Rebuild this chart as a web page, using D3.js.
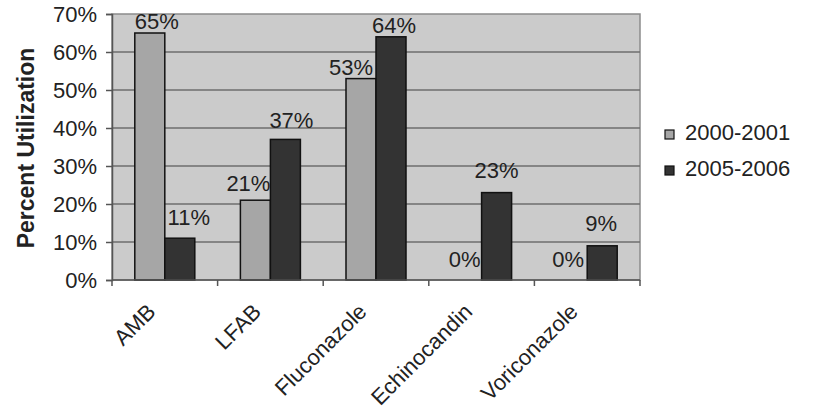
<!DOCTYPE html>
<html>
<head>
<meta charset="utf-8">
<script src="https://cdn.jsdelivr.net/npm/d3@7"></script>
<style>
  body { margin: 0; background: #fff; }
  svg { display: block; font-family: Arial, "Liberation Sans", sans-serif; }
</style>
</head>
<body>
<svg id="chart" width="813" height="415"></svg>
<script>
// Antifungal agents and share of use in each period (percent)
const categories = ["AMB", "LFAB", "Fluconazole", "Echinocandin", "Voriconazole"];
const seriesNames = ["2000-2001", "2005-2006"];
const values2000 = [65, 21, 53, 0, 0];
const values2005 = [11, 37, 64, 23, 9];
const yTicks = [0, 10, 20, 30, 40, 50, 60, 70];

const colors = ["#a6a6a6", "#333333"];
const series = [values2000, values2005];

// Label placement tweaks [dx, gap above bar] so neighbouring labels don't collide
const labelPlacement = [
  [[7, 4], [-7, 9], [-10, 4], [-2, 13], [-4, 13]],
  [[9, 13], [6, 11], [3, 4], [0, 15], [-1, 15]]
];

const FONT = 22;
const svg = d3.select("#chart");
const margin = { left: 112, top: 14, right: 173, bottom: 135 };
const W = 813 - margin.left - margin.right;
const H = 415 - margin.top - margin.bottom;

const g = svg.append("g").attr("transform", `translate(${margin.left},${margin.top})`);

const x = d3.scaleBand().domain(categories).range([0, W]).paddingInner(0).paddingOuter(0);
const barW = 30;
const sub = d3.scaleBand().domain(seriesNames).range([0, barW * 2]);
const y = d3.scaleLinear().domain([0, 70]).range([H, 0]);

// Plot area background
g.append("rect").attr("width", W).attr("height", H)
  .attr("fill", "#cbcbcb").attr("stroke", "#8c8c8c").attr("stroke-width", 1.5);

// Horizontal gridlines
g.selectAll(".grid").data(yTicks.filter(t => t > 0 && t < 70)).enter().append("line")
  .attr("x1", 0).attr("x2", W).attr("y1", d => y(d)).attr("y2", d => y(d))
  .attr("stroke", "#6e6e6e").attr("stroke-width", 1.5);

const barX = (c, si) => x(c) + (x.bandwidth() - barW * 2) / 2 + sub(seriesNames[si]);

// Bars
series.forEach((vals, si) => {
  g.selectAll(".bar" + si).data(categories).enter().append("rect")
    .attr("x", c => barX(c, si))
    .attr("y", (c, i) => y(vals[i]))
    .attr("width", barW)
    .attr("height", (c, i) => H - y(vals[i]))
    .attr("fill", colors[si])
    .attr("stroke", "#111").attr("stroke-width", 1.5)
    .attr("display", (c, i) => vals[i] > 0 ? null : "none");
});

// Value labels
series.forEach((vals, si) => {
  g.selectAll(".lab" + si).data(categories).enter().append("text")
    .attr("x", (c, i) => barX(c, si) + barW / 2 + labelPlacement[si][i][0])
    .attr("y", (c, i) => y(vals[i]) - labelPlacement[si][i][1])
    .attr("text-anchor", "middle")
    .attr("font-size", FONT).attr("fill", "#222")
    .text((c, i) => vals[i] + "%");
});

// Y axis
const yAxis = g.append("g").call(d3.axisLeft(y).tickValues(yTicks).tickFormat(d => d + "%").tickSize(6).tickPadding(9));
yAxis.select(".domain").attr("stroke", "#555").attr("stroke-width", 1.5);
yAxis.selectAll(".tick line").attr("stroke", "#555").attr("stroke-width", 1.5);
yAxis.selectAll("text").attr("font-size", FONT).attr("fill", "#222")
  .attr("font-family", "Arial, 'Liberation Sans', sans-serif").attr("dy", "0.36em");

// X axis with ticks at category boundaries
const xAxisG = g.append("g").attr("transform", `translate(0,${H})`);
xAxisG.append("line").attr("x1", 0).attr("x2", W).attr("stroke", "#555").attr("stroke-width", 1.5);
xAxisG.selectAll(".xt").data(d3.range(categories.length + 1)).enter().append("line")
  .attr("x1", i => i * x.step()).attr("x2", i => i * x.step())
  .attr("y1", 0).attr("y2", 6).attr("stroke", "#555").attr("stroke-width", 1.5);
xAxisG.selectAll(".xl").data(categories).enter().append("text")
  .attr("transform", c => `translate(${x(c) + x.bandwidth() / 2 - 8},${33}) rotate(-45)`)
  .attr("text-anchor", "end")
  .attr("font-size", FONT).attr("fill", "#222")
  .text(c => c);

// Y axis title
svg.append("text")
  .attr("transform", `translate(34,${148}) rotate(-90)`)
  .attr("text-anchor", "middle")
  .attr("font-size", 23).attr("font-weight", "bold").attr("fill", "#222")
  .text("Percent Utilization");

// Legend
const legend = svg.append("g").attr("transform", "translate(665,130)");
seriesNames.forEach((name, i) => {
  const row = legend.append("g").attr("transform", `translate(0,${i * 36})`);
  row.append("rect").attr("width", 9).attr("height", 9)
    .attr("fill", colors[i]).attr("stroke", "#111").attr("stroke-width", 1.2);
  row.append("text").attr("x", 20).attr("y", 9.5).attr("font-size", FONT).attr("fill", "#222").text(name);
});
</script>
</body>
</html>
